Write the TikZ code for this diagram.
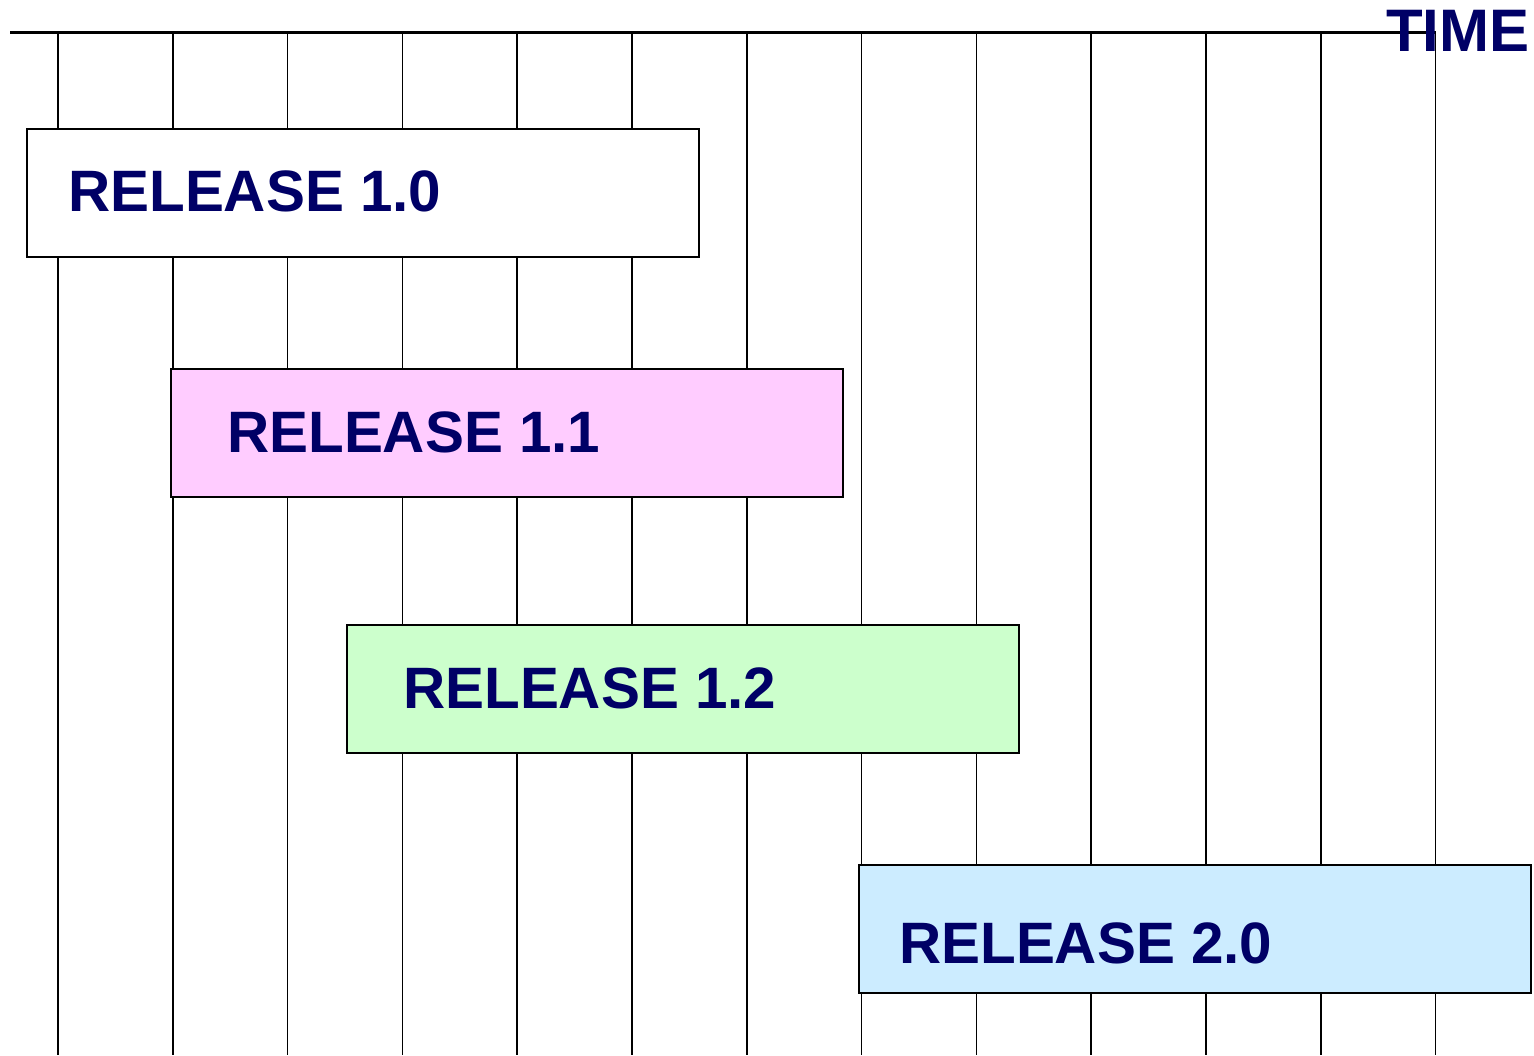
\documentclass[tikz,border=0pt]{standalone}
\usepackage{fontspec}
\setmainfont{Liberation Sans}
\usepackage{xcolor}
\definecolor{navy}{HTML}{000066}
\definecolor{relpink}{HTML}{FFCCFF}
\definecolor{relgreen}{HTML}{CCFFCC}
\definecolor{relblue}{HTML}{CCECFF}
\tikzset{
  relbox/.style={draw, line width=1.5pt, minimum width=672pt, minimum height=128pt, inner sep=0pt, anchor=north west},
  rellabel/.style={text=navy, font=\fontsize{58.4}{60}\selectfont\bfseries, inner sep=0pt, anchor=base west}
}
\begin{document}
\begin{tikzpicture}[x=1pt,y=-1pt]
                \useasboundingbox (0,0) rectangle (1534,1055);
                \coordinate (tl) at (10,32);
                \coordinate (tr) at (1436,32);
                \foreach \i in {0,...,12}
                    \draw[line width=1.5pt] (58+114.8*\i,32) -- (58+114.8*\i,1055);
                \draw[line width=3pt] (tl) -- (tr);
                \node[rellabel, font=\fontsize{60}{62}\selectfont\bfseries] (time) at (1386,51) {TIME};

                \node[relbox, fill=white] (r10) at (26,128) {};
                \node[relbox, fill=relpink] (r11) at (170,368) {};
                \node[relbox, fill=relgreen] (r12) at (346,624) {};
                \node[relbox, fill=relblue] (r20) at (858,864) {};

                \node[rellabel] (t10) at ([xshift=42pt,yshift=-83pt]r10.north west) {RELEASE 1.0};
                \node[rellabel] (t11) at ([xshift=57pt,yshift=-84pt]r11.north west) {RELEASE 1.1};
                \node[rellabel] (t12) at ([xshift=57pt,yshift=-84pt]r12.north west) {RELEASE 1.2};
                \node[rellabel] (t20) at ([xshift=41pt,yshift=-99pt]r20.north west) {RELEASE 2.0};
            \end{tikzpicture}
\end{document}
